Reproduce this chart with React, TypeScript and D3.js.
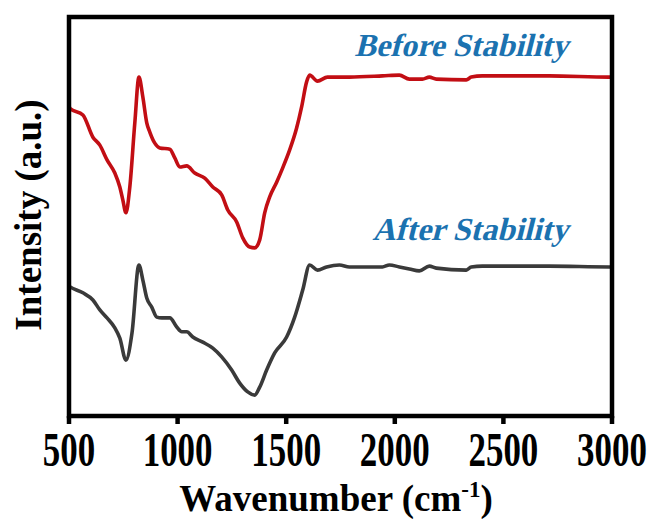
import { useEffect, useRef } from 'react';
import * as d3 from 'd3';

// FTIR spectra (arbitrary intensity units)
const beforeWavenumber = [500, 505, 564, 610, 642, 675, 711, 734, 748, 762, 780, 803, 822, 840, 858, 872, 895, 918, 964, 987, 1010, 1042, 1079, 1125, 1162, 1203, 1231, 1272, 1300, 1332, 1355, 1378, 1401, 1424, 1456, 1484, 1516, 1548, 1571, 1594, 1608, 1644, 1690, 1791, 1943, 2021, 2067, 2127, 2159, 2191, 2329, 2352, 2403, 2711, 2986, 3000];
const beforeIntensity = [77.6, 77.0, 75.4, 69.8, 67.8, 64.1, 60.8, 57.3, 54.0, 50.8, 57.3, 73.4, 84.9, 79.9, 73.4, 71.1, 68.3, 67.1, 66.8, 64.6, 62.3, 62.6, 60.8, 59.5, 57.3, 55.3, 51.5, 48.5, 44.5, 42.2, 42.0, 44.0, 50.8, 54.8, 58.5, 62.1, 66.6, 72.1, 77.4, 83.7, 85.4, 83.9, 84.9, 84.9, 85.2, 85.4, 84.4, 84.4, 84.9, 84.4, 84.2, 84.9, 85.2, 85.2, 84.9, 84.9];

const afterWavenumber = [500, 505, 564, 610, 642, 675, 711, 734, 762, 790, 822, 840, 858, 881, 904, 927, 964, 996, 1019, 1042, 1070, 1116, 1162, 1203, 1249, 1286, 1323, 1355, 1378, 1410, 1447, 1502, 1539, 1576, 1608, 1644, 1686, 1745, 1791, 1943, 1975, 2021, 2067, 2113, 2159, 2191, 2329, 2352, 2403, 2711, 2986, 3000];
const afterIntensity = [32.4, 32.2, 30.7, 28.9, 26.4, 24.4, 21.9, 19.3, 13.8, 20.6, 37.7, 33.9, 29.4, 27.1, 24.6, 24.4, 24.4, 22.1, 20.9, 20.9, 19.6, 18.3, 16.8, 14.6, 11.3, 8.0, 5.8, 5.0, 7.0, 11.3, 15.6, 19.6, 24.6, 31.4, 37.7, 36.4, 37.2, 37.7, 37.2, 37.2, 37.7, 37.2, 36.7, 36.2, 37.4, 36.9, 36.4, 37.2, 37.4, 37.4, 37.2, 37.2];

const xTicks = [500, 1000, 1500, 2000, 2500, 3000];
const seriesLabels = ['Before Stability', 'After Stability'];

const WIDTH = 651;
const HEIGHT = 519;
const FONT = '"Liberation Serif", "Times New Roman", serif';

export default function App() {
  const svgRef = useRef<SVGSVGElement>(null);

  useEffect(() => {
    if (!svgRef.current) return;
    const svg = d3.select(svgRef.current);
    svg.selectAll('*').remove();

    const left = 69, right = 612, top = 17, bottom = 416;

    const x = d3.scaleLinear().domain([500, 3000]).range([left, right]);
    const y = d3.scaleLinear().domain([0, 100]).range([415, top]);

    const line = d3.line<[number, number]>()
      .x(d => x(d[0]))
      .y(d => y(d[1]))
      .curve(d3.curveMonotoneX);

    const before: [number, number][] = beforeWavenumber.map((w, i) => [w, beforeIntensity[i]]);
    const after: [number, number][] = afterWavenumber.map((w, i) => [w, afterIntensity[i]]);

    svg.append('path')
      .attr('d', line(before))
      .attr('fill', 'none')
      .attr('stroke', '#c20e14')
      .attr('stroke-width', 3.6)
      .attr('stroke-linejoin', 'round');

    svg.append('path')
      .attr('d', line(after))
      .attr('fill', 'none')
      .attr('stroke', '#3a3a3a')
      .attr('stroke-width', 3.6)
      .attr('stroke-linejoin', 'round');

    // frame
    svg.append('rect')
      .attr('x', left)
      .attr('y', top)
      .attr('width', right - left)
      .attr('height', bottom - top)
      .attr('fill', 'none')
      .attr('stroke', '#000')
      .attr('stroke-width', 4.5);

    // bottom ticks, pointing outward
    const ticks = svg.append('g');
    xTicks.forEach(t => {
      ticks.append('line')
        .attr('x1', x(t)).attr('x2', x(t))
        .attr('y1', bottom).attr('y2', bottom + 8)
        .attr('stroke', '#000')
        .attr('stroke-width', 4.5);
      ticks.append('text')
        .attr('transform', `translate(${x(t)}, 466) scale(0.76, 1.04)`)
        .attr('text-anchor', 'middle')
        .attr('font-family', FONT)
        .attr('font-weight', 'bold')
        .attr('font-size', 46)
        .attr('fill', '#000')
        .text(String(t));
    });

    // axis titles
    const xTitle = svg.append('text')
      .attr('x', 336)
      .attr('y', 511)
      .attr('text-anchor', 'middle')
      .attr('font-family', FONT)
      .attr('font-weight', 'bold')
      .attr('font-size', 37)
      .attr('fill', '#000');
    xTitle.append('tspan').text('Wavenumber (cm');
    xTitle.append('tspan').attr('dy', -14).attr('font-size', 23).text('-1');
    xTitle.append('tspan').attr('dy', 14).text(')');

    svg.append('text')
      .attr('transform', `translate(41, 215) rotate(-90)`)
      .attr('text-anchor', 'middle')
      .attr('font-family', FONT)
      .attr('font-weight', 'bold')
      .attr('font-size', 37)
      .attr('fill', '#000')
      .text('Intensity (a.u.)');

    // series annotations (slanted bold serif)
    const labelY = [56, 240];
    seriesLabels.forEach((label, i) => {
      svg.append('text')
        .attr('transform', `translate(568, ${labelY[i]}) skewX(-14)`)
        .attr('text-anchor', 'end')
        .attr('font-family', FONT)
        .attr('font-weight', 'bold')
        .attr('font-size', 32)
        .attr('fill', '#1b72b0')
        .text(label);
    });
  }, []);

  return (
    <svg
      ref={svgRef}
      width={WIDTH}
      height={HEIGHT}
      viewBox={`0 0 ${WIDTH} ${HEIGHT}`}
      style={{ position: 'absolute', left: 0, top: 0, background: '#fff' }}
    />
  );
}
